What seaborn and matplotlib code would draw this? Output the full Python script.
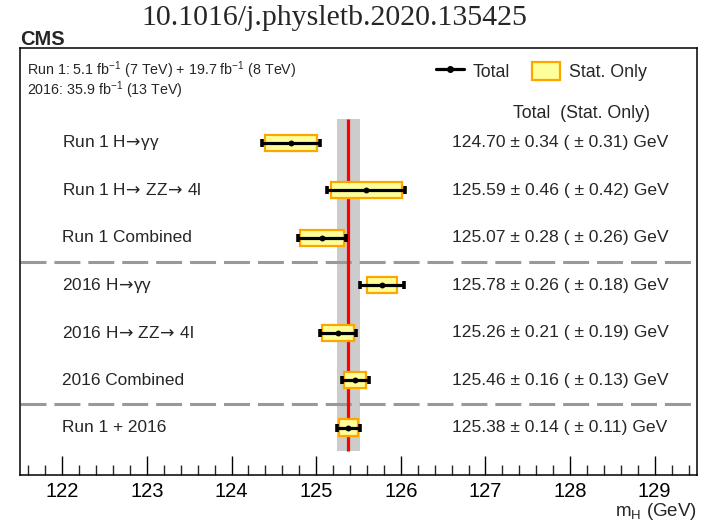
import numpy as np
import pandas as pd
import matplotlib
matplotlib.use("Agg")
import matplotlib.pyplot as plt
from matplotlib.patches import Rectangle, Patch
from matplotlib.lines import Line2D
from matplotlib.ticker import MultipleLocator
import seaborn as sns

# Higgs boson mass measurements (GeV)
ARROW = "$\\!\\rightarrow\\!$"
channels = [f"Run 1 H{ARROW}\u03b3\u03b3", f"Run 1 H{ARROW} ZZ{ARROW} 4l",
            "Run 1 Combined",
            f"2016 H{ARROW}\u03b3\u03b3", f"2016 H{ARROW} ZZ{ARROW} 4l",
            "2016 Combined", "Run 1 + 2016"]
mass = [124.70, 125.59, 125.07, 125.78, 125.26, 125.46, 125.38]
err_total = [0.34, 0.46, 0.28, 0.26, 0.21, 0.16, 0.14]
err_stat = [0.31, 0.42, 0.26, 0.18, 0.19, 0.13, 0.11]
combined_mass = 125.38
combined_total = 0.14
x_ticks = [122, 123, 124, 125, 126, 127, 128, 129]

sns.set_theme(style="white")
plt.rcParams["font.family"] = ["Liberation Sans", "DejaVu Sans"]
plt.rcParams["mathtext.fontset"] = "dejavusans"

FILL = "#ffff99"
EDGE = "#ffa500"

fig = plt.figure(figsize=(7.06, 5.23), dpi=100)
ax = fig.add_axes([0.0283, 0.0918, 0.959, 0.8164])

n = len(channels)
ypos = np.arange(n, 0, -1)
df = pd.DataFrame({"channel": channels, "mass": mass, "total": err_total,
                   "stat": err_stat, "y": ypos})

# combined uncertainty band and central value
ax.fill_betweenx([0.5, n + 0.5], combined_mass - combined_total,
                 combined_mass + combined_total, color="#cccccc", lw=0, zorder=1)
ax.vlines(combined_mass, 0.5, n + 0.5, color="#ff0000", lw=2.3, zorder=2)

# separators between data-taking periods
for ysep in (4.5, 1.5):
    ax.axhline(ysep, color="#999999", lw=2.2, dashes=(8.5, 2.6), zorder=1.5)

# statistical-only boxes
half_h = 0.17
for _, r in df.iterrows():
    ax.add_patch(Rectangle((r["mass"] - r["stat"], r["y"] - half_h), 2 * r["stat"],
                           2 * half_h, facecolor=FILL, edgecolor=EDGE, lw=1.6, zorder=3))

# total uncertainty
ax.errorbar(df["mass"], df["y"], xerr=df["total"], fmt="none", ecolor="black",
            elinewidth=2.3, capsize=3, capthick=2.6, zorder=4)
sns.scatterplot(data=df, x="mass", y="y", color="black", s=18, linewidth=0,
                zorder=5, ax=ax, legend=False)

# channel names and numeric results
for _, r in df.iterrows():
    ax.text(122.0, r["y"], r["channel"], ha="left", va="center", fontsize=12.4)
    ax.text(126.6, r["y"],
            f"{r['mass']:.2f} \u00b1 {r['total']:.2f} ( \u00b1 {r['stat']:.2f}) GeV",
            ha="left", va="center", fontsize=12.6)
ax.text(127.32, 7.62, "Total  (Stat. Only)", ha="left", va="center", fontsize=12.8)

ax.set_xlim(121.5, 129.5)
ax.set_ylim(0, 9)
ax.set_yticks([])
ax.set_ylabel("")
ax.xaxis.set_minor_locator(MultipleLocator(0.2))
ax.set_xticks(x_ticks)
ax.tick_params(axis="x", which="major", direction="in", length=14, width=1,
               bottom=True, top=False, labelsize=14.5, pad=5, colors="black")
ax.tick_params(axis="x", which="minor", direction="in", length=7, width=1,
               bottom=True, top=False)
ax.set_xlabel("m$_\\mathregular{H}$ (GeV)", loc="right", fontsize=13.5, labelpad=0)
for sp in ax.spines.values():
    sp.set_color("black")
    sp.set_linewidth(1.1)

# legend
handles = [Line2D([], [], color="black", lw=2.3, marker="o", ms=4),
           Patch(facecolor=FILL, edgecolor=EDGE, lw=1.6)]
ax.legend(handles, ["Total", "Stat. Only"], ncol=2, loc="center left",
          bbox_to_anchor=(0.614, 0.946), frameon=False, fontsize=12.8,
          handlelength=1.6, handleheight=1.2, handletextpad=0.5,
          columnspacing=1.2, borderpad=0, borderaxespad=0)

ax.text(0.0103, 0.949,
        "Run 1: 5.1 fb$^\\mathregular{-1}$ (7 TeV) + 19.7 fb$^\\mathregular{-1}$ (8 TeV)",
        transform=ax.transAxes, ha="left", va="center", fontsize=10.3)
ax.text(0.0103, 0.902, "2016: 35.9 fb$^\\mathregular{-1}$ (13 TeV)",
        transform=ax.transAxes, ha="left", va="center", fontsize=10.3)

fig.text(0.029, 0.914, "CMS", fontweight="bold", fontsize=14.5, ha="left", va="baseline")
fig.text(0.474, 0.966, "10.1016/j.physletb.2020.135425", family="Liberation Serif",
         fontsize=21.5, ha="center", va="center")

fig.savefig("out.png", dpi=100)
